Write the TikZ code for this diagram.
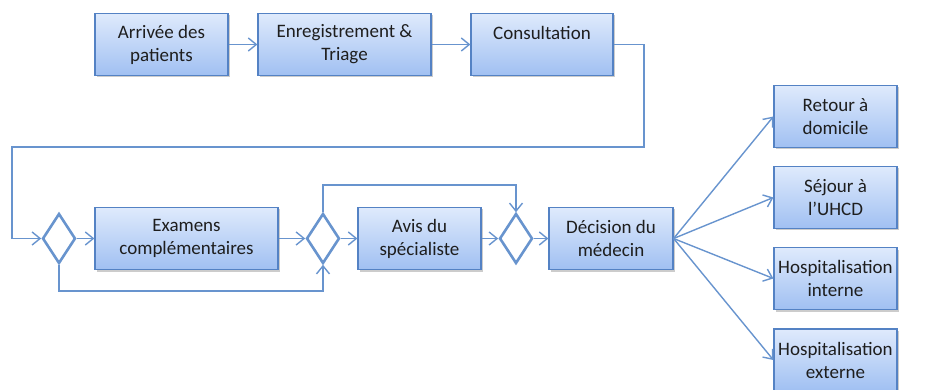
\documentclass[tikz,border=0pt]{standalone}
\usepackage{fontspec}
\setmainfont{Carlito}
\usetikzlibrary{arrows.meta,shapes.geometric,shadows}
\definecolor{boxline}{RGB}{84,130,196}
\definecolor{flow}{RGB}{104,148,206}
\definecolor{boxtop}{RGB}{223,234,252}
\definecolor{boxbot}{RGB}{160,192,242}
\definecolor{txt}{RGB}{30,30,30}
\begin{document}
\begin{tikzpicture}[x=1pt,y=-1pt,>={Straight Barb[length=8pt,width=13pt]},
  etape/.style={draw=boxline,line width=1.2pt,top color=boxtop,bottom color=boxbot,
    minimum height=62pt,inner sep=0pt,align=center,text=txt,
    font=\fontsize{19}{23}\selectfont,
    drop shadow={shadow xshift=1.5pt,shadow yshift=-2pt,opacity=0.4}},
  choix/.style={diamond,draw=flow,line width=2.6pt,fill=white,
    minimum width=33pt,minimum height=50pt,inner sep=0pt},
  fleche/.style={->,draw=flow,line width=1.4pt}]
\useasboundingbox (0,0) rectangle (937,390);
\node[etape,minimum width=133pt](arr) at (161.5,44.5){Arrivée des\\patients};
\node[etape,minimum width=173pt](enr) at (344.5,44.5){Enregistrement \&\\Triage};
\node[etape,minimum width=142pt](con) at (542,44.5){Consultation\\\mbox{}};
\node[choix](d1) at (59,238.5){};
\node[etape,minimum width=183pt](exa) at (186.5,238.5){Examens\\complémentaires};
\node[choix](d2) at (323,238.5){};
\node[etape,minimum width=123pt](avi) at (419.5,238.5){Avis du\\spécialiste};
\node[choix](d3) at (516,238.5){};
\node[etape,minimum width=124pt](dec) at (611,238.5){Décision du\\médecin};
\node[etape,minimum width=123pt](dom) at (835.5,116.5){Retour à\\domicile};
\node[etape,minimum width=123pt](uhcd) at (835.5,197.5){Séjour à\\l’UHCD};
\node[etape,minimum width=123pt](hin) at (835.5,278.5){Hospitalisation\\interne};
\node[etape,minimum width=123pt](hex) at (835.5,360){Hospitalisation\\externe};
\coordinate (c1) at (644,147);
\coordinate (c2) at (12,147);
\coordinate (b1) at (59,291);
\coordinate (t1) at (323,185);
\draw[fleche](arr)--(enr);
\draw[fleche](enr)--(con);
\draw[fleche](con.east)-|(c1)--(c2)|-(d1.west);
\draw[fleche](d1)--(exa);
\draw[fleche](exa)--(d2);
\draw[fleche](d2)--(avi);
\draw[fleche](avi)--(d3);
\draw[fleche](d3)--(dec);
\draw[fleche](d1.south)--(b1)-|(d2.south);
\draw[fleche](d2.north)--(t1)-|(d3.north);
\foreach \n in {dom,uhcd,hin,hex}
  \draw[fleche](dec.east)--(\n.west);
\end{tikzpicture}
\end{document}
